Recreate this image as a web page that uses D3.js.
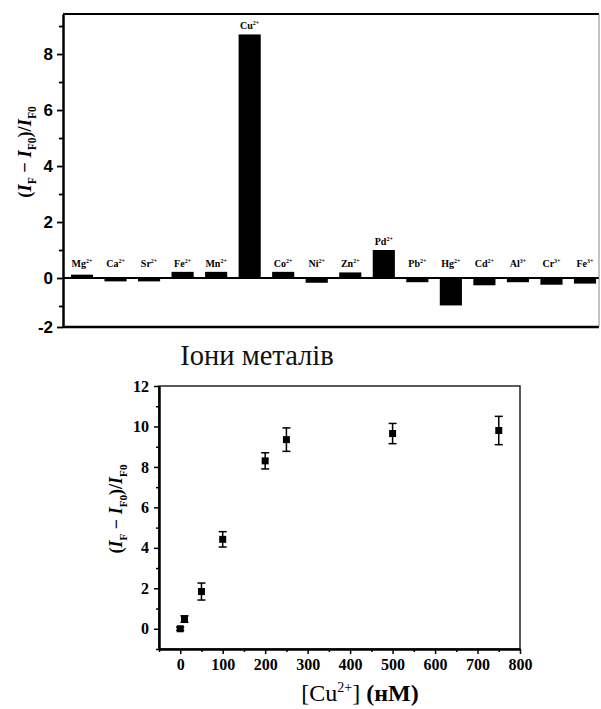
<!DOCTYPE html>
<html><head><meta charset="utf-8">
<script src="https://cdn.jsdelivr.net/npm/d3@7"></script>
<style>
html,body{margin:0;padding:0;background:#fff;}
svg{display:block;}
</style>
</head><body>
<svg id="c" width="601" height="709"></svg>
<script>
// ---- Data: top bar chart ----
const ions = ["Mg2+","Ca2+","Sr2+","Fe2+","Mn2+","Cu2+","Co2+","Ni2+","Zn2+","Pd2+","Pb2+","Hg2+","Cd2+","Al3+","Cr3+","Fe3+"];
const response = [0.12,-0.12,-0.12,0.22,0.22,8.7,0.22,-0.17,0.2,1.0,-0.15,-0.98,-0.26,-0.15,-0.24,-0.2];
const barYTicks = [-2,0,2,4,6,8];
const barYMinor = [-1,1,3,5,7,9];

// ---- Data: bottom titration chart ----
const conc = [0,10,50,100,200,250,500,750];
const ratio = [0,0.48,1.84,4.42,8.3,9.35,9.65,9.8];
const ratioErr = [0.08,0.16,0.42,0.38,0.4,0.58,0.5,0.7];
const scatYTicks = [0,2,4,6,8,10,12];
const scatYMinor = [-1,1,3,5,7,9,11];
const scatXTicks = [0,100,200,300,400,500,600,700,800];
const scatXMinor = [-50,50,150,250,350,450,550,650,750];

const svg = d3.select("#c");
const SERIF = "Liberation Serif, DejaVu Serif, serif";
const SANS = "Liberation Sans, Arial, sans-serif";
const fmt = d => String(d);

// helper for the ratio label
function ratioLabel(g, size){
  const t = g.append("text").attr("font-family", SERIF).attr("font-size", size).attr("font-weight","bold").attr("text-anchor","middle");
  const sub = size*0.62;
  t.append("tspan").text("(");
  t.append("tspan").attr("font-style","italic").text("I");
  t.append("tspan").attr("font-size",sub).attr("dy", size*0.25).text("F");
  t.append("tspan").attr("dy", -size*0.25).text(" \u2212 ");
  t.append("tspan").attr("font-style","italic").text("I");
  t.append("tspan").attr("font-size",sub).attr("dy", size*0.25).text("F0");
  t.append("tspan").attr("dy", -size*0.25).text(")/");
  t.append("tspan").attr("font-style","italic").text("I");
  t.append("tspan").attr("font-size",sub).attr("dy", size*0.25).text("F0");
  return t;
}

// ================= TOP CHART =================
const T = {l:63, r:599, t:14, b:327};
const x1 = d3.scalePoint().domain(ions).range([82, 585]);
const y1 = d3.scaleLinear().domain([-1.75, 9.43]).range([T.b, T.t]).clamp(true);
const bw = x1.step()*0.66;
const topG = svg.append("g");

topG.selectAll("rect.bar").data(ions).join("rect")
  .attr("class","bar")
  .attr("x", d => x1(d) - bw/2)
  .attr("width", bw)
  .attr("y", (d,i) => y1(Math.max(0, response[i])))
  .attr("height", (d,i) => Math.abs(y1(response[i]) - y1(0)))
  .attr("fill","#000");

// zero line
topG.append("line").attr("x1",T.l).attr("x2",T.r).attr("y1",y1(0)).attr("y2",y1(0))
  .attr("stroke","#000").attr("stroke-width",2);

// labels
ions.forEach((d,i) => {
  const m = d.match(/^([A-Za-z]+)(\d\+)$/);
  const yy = y1(Math.max(response[i], 0.2)) - 5;
  const t = topG.append("text").attr("x", x1(d)).attr("y", yy)
    .attr("text-anchor","middle").attr("font-family",SERIF).attr("font-weight","bold")
    .attr("font-size",10);
  t.append("tspan").text(m[1]);
  t.append("tspan").attr("font-size",6).attr("dy",-4).text(m[2]);
});

// frame
topG.append("line").attr("x1",T.l).attr("x2",T.r).attr("y1",T.t).attr("y2",T.t).attr("stroke","#000").attr("stroke-width",2);
topG.append("line").attr("x1",T.l).attr("x2",T.r).attr("y1",T.b).attr("y2",T.b).attr("stroke","#000").attr("stroke-width",2.5);
topG.append("line").attr("x1",T.r).attr("x2",T.r).attr("y1",T.t).attr("y2",T.b).attr("stroke","#888").attr("stroke-width",1);

// y axis
const ay1 = topG.append("g").attr("transform",`translate(${T.l},0)`)
  .call(d3.axisLeft(y1).tickValues(barYTicks).tickSize(6).tickSizeOuter(0).tickPadding(4).tickFormat(fmt));
ay1.select(".domain").attr("stroke-width",2.5);
ay1.selectAll(".tick line").attr("stroke-width",1.8);
ay1.selectAll("text").attr("font-family",SANS).attr("font-weight","bold").attr("font-size",17).attr("fill","#000");
topG.append("g").attr("transform",`translate(${T.l},0)`)
  .call(d3.axisLeft(y1).tickValues(barYMinor).tickSize(4).tickFormat(""))
  .call(g => g.select(".domain").remove())
  .selectAll(".tick line").attr("stroke-width",1.8);

// y label
const yl1 = topG.append("g").attr("transform",`translate(31,152) rotate(-90)`);
ratioLabel(yl1, 18.5).attr("x",0).attr("y",0);

// x label
topG.append("text").attr("x",257).attr("y",365).attr("text-anchor","middle")
  .attr("font-family",SERIF).attr("font-size",28.5).attr("fill","#111").text("Іони металів");

// ================= BOTTOM CHART =================
const B = {l:159, r:520, t:386, b:649};
const x2 = d3.scaleLinear().domain([-50, 800]).range([B.l, B.r]);
const y2 = d3.scaleLinear().domain([-1, 12]).range([B.b, B.t]);
const bot = svg.append("g");

bot.append("rect").attr("x",B.l).attr("y",B.t).attr("width",B.r-B.l).attr("height",B.b-B.t)
  .attr("fill","none").attr("stroke","#222").attr("stroke-width",1.5);

const ax2 = bot.append("g").attr("transform",`translate(0,${B.b})`)
  .call(d3.axisBottom(x2).tickValues(scatXTicks).tickSize(5).tickSizeOuter(0).tickPadding(5).tickFormat(fmt));
ax2.select(".domain").attr("stroke-width",2.5);
ax2.selectAll(".tick line").attr("stroke-width",1.5);
ax2.selectAll("text").attr("font-family",SERIF).attr("font-weight","bold").attr("font-size",16).attr("fill","#000");
bot.append("g").attr("transform",`translate(0,${B.b})`)
  .call(d3.axisBottom(x2).tickValues(scatXMinor).tickSize(3).tickFormat(""))
  .call(g => g.select(".domain").remove())
  .selectAll(".tick line").attr("stroke-width",1.5);

const ay2 = bot.append("g").attr("transform",`translate(${B.l},0)`)
  .call(d3.axisLeft(y2).tickValues(scatYTicks).tickSize(5).tickSizeOuter(0).tickPadding(5).tickFormat(fmt));
ay2.select(".domain").attr("stroke-width",2.5);
ay2.selectAll(".tick line").attr("stroke-width",1.5);
ay2.selectAll("text").attr("font-family",SERIF).attr("font-weight","bold").attr("font-size",16).attr("fill","#000");
bot.append("g").attr("transform",`translate(${B.l},0)`)
  .call(d3.axisLeft(y2).tickValues(scatYMinor).tickSize(3).tickFormat(""))
  .call(g => g.select(".domain").remove())
  .selectAll(".tick line").attr("stroke-width",1.5);

// error bars & points
const pts = bot.append("g");
conc.forEach((c,i) => {
  const cx = x2(c), cy = y2(ratio[i]);
  const yt = y2(ratio[i]+ratioErr[i]), yb = y2(ratio[i]-ratioErr[i]);
  pts.append("line").attr("x1",cx).attr("x2",cx).attr("y1",yt).attr("y2",yb).attr("stroke","#000").attr("stroke-width",1.5);
  [yt,yb].forEach(yy => pts.append("line").attr("x1",cx-4).attr("x2",cx+4).attr("y1",yy).attr("y2",yy).attr("stroke","#000").attr("stroke-width",1.5));
  pts.append("rect").attr("x",cx-3.5).attr("y",cy-3.5).attr("width",7).attr("height",7).attr("fill","#000");
});

// labels
const yl2 = bot.append("g").attr("transform",`translate(122,509) rotate(-90)`);
ratioLabel(yl2, 18).attr("x",0).attr("y",0);

const xl2 = bot.append("text").attr("x",360).attr("y",701).attr("text-anchor","middle")
  .attr("font-family",SERIF).attr("font-size",24).attr("fill","#000");
xl2.append("tspan").text("[Cu");
xl2.append("tspan").attr("font-size",14).attr("dy",-9).text("2+");
xl2.append("tspan").attr("dy",9).text("] ");
xl2.append("tspan").attr("font-weight","bold").text("(нМ)");
</script>
</body></html>
